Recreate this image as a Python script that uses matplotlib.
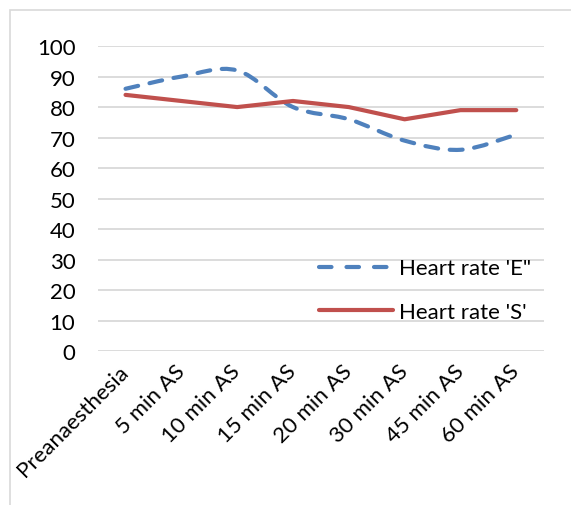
import numpy as np
import matplotlib
matplotlib.use('Agg')
import matplotlib.pyplot as plt
from matplotlib.path import Path
from matplotlib.patches import PathPatch, Rectangle
from matplotlib.lines import Line2D

categories = ['Preanaesthesia', '5 min AS', '10 min AS', '15 min AS',
              '20 min AS', '30 min AS', '45 min AS', '60 min AS']
heart_e = [86, 90, 92, 80, 76, 69, 66, 71]
heart_s = [84, 82, 80, 82, 80, 76, 79, 79]
yticks = [0, 10, 20, 30, 40, 50, 60, 70, 80, 90, 100]

plt.rcParams['font.family'] = ['Lato', 'DejaVu Sans']

blue = '#4F81BD'
red = '#C0504D'
lw = 3.0
dash = (0, (3.1, 2.8))


def smooth_path(x, y, t=1.0 / 6):
    # excel style smoothed line as cubic bezier
    x = np.asarray(x, float)
    y = np.asarray(y, float)
    verts = [(x[0], y[0])]
    codes = [Path.MOVETO]
    n = len(x)
    for i in range(n - 1):
        i0 = max(i - 1, 0)
        i3 = min(i + 2, n - 1)
        c1 = (x[i] + (x[i + 1] - x[i0]) * t, y[i] + (y[i + 1] - y[i0]) * t)
        c2 = (x[i + 1] - (x[i3] - x[i]) * t, y[i + 1] - (y[i3] - y[i]) * t)
        verts += [c1, c2, (x[i + 1], y[i + 1])]
        codes += [Path.CURVE4] * 3
    return Path(verts, codes)


fig = plt.figure(figsize=(5.71, 5.06), dpi=100)
ax = fig.add_axes([0.171, 0.304, 0.782, 0.603])

xs = np.arange(len(categories))
patch = PathPatch(smooth_path(xs, heart_e), facecolor='none', edgecolor=blue,
                  linewidth=lw, linestyle=dash, capstyle='round', zorder=3)
ax.add_patch(patch)
ax.plot(xs, heart_s, color=red, linewidth=lw, solid_capstyle='round', zorder=3)

ax.set_xlim(-0.5, len(categories) - 0.5)
ax.set_ylim(0, 100)
ax.set_yticks(yticks)
ax.set_xticks(xs)
ax.set_xticklabels(categories, rotation=45, ha='right', va='center',
                   rotation_mode='anchor')
ax.tick_params(axis='both', length=0, labelsize=16, colors='black')
ax.tick_params(axis='y', pad=16)
ax.tick_params(axis='x', pad=12)
for s in ax.spines.values():
    s.set_visible(False)
ax.yaxis.grid(True, color='#d9d9d9', linewidth=1.3)
ax.set_axisbelow(True)

handles = [Line2D([], [], color=blue, linewidth=lw,
                  linestyle=(0, (3.0, 3.6)), dash_capstyle='round'),
           Line2D([], [], color=red, linewidth=lw, solid_capstyle='round')]
ax.legend(handles, ["Heart rate 'E\"", "Heart rate 'S'"], loc='center left',
          bbox_to_anchor=(0.452, 0.2), frameon=False, fontsize=16,
          handlelength=3.3, handletextpad=0.3, labelspacing=1.05)

fig.patches.append(Rectangle((10 / 571, -0.1), 1.1, 1.1 - 11 / 506,
                             transform=fig.transFigure, fill=False,
                             edgecolor='#d9d9d9', linewidth=1.2))

fig.savefig('out.png', dpi=100)
